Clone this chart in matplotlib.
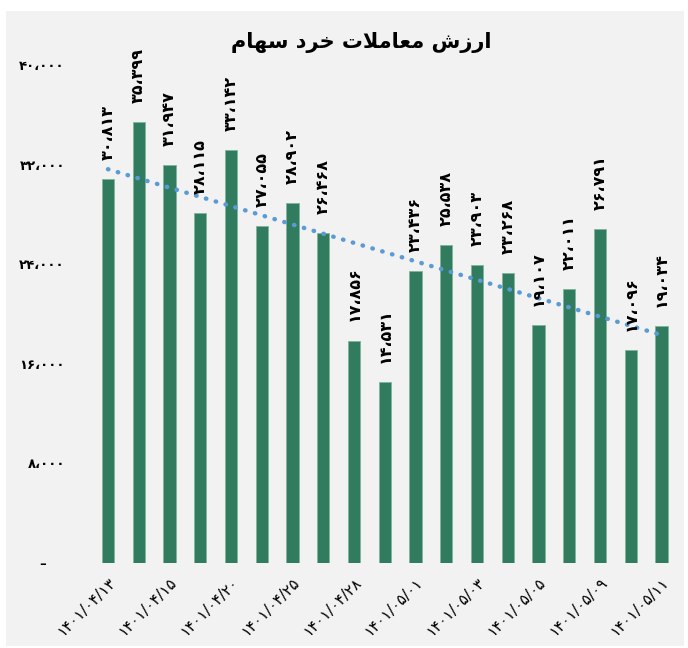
import numpy as np
import matplotlib.pyplot as plt
import matplotlib.transforms as mtransforms
from matplotlib.patches import Rectangle

# داده‌ها
values = [30813, 35399, 31947, 28115, 33142, 27055, 28902, 26468, 17856, 14531,
          23436, 25538, 23903, 23268, 19107, 22011, 26791, 17096, 19034]
date_labels = ["1401/04/13", "1401/04/15", "1401/04/20", "1401/04/25", "1401/04/28",
               "1401/05/01", "1401/05/03", "1401/05/05", "1401/05/09", "1401/05/11"]
y_ticks = [0, 8000, 16000, 24000, 32000, 40000]

# title pre-shaped (visual order) since matplotlib does no arabic shaping
title = "\uFEE1\uFE8E\uFEEC\uFEB3 \uFEA9\uFEAE\uFEA7 \uFE95\uFEFC\uFEE3\uFE8E\uFECC\uFEE3 \uFEB5\uFEAF\uFEAD\uFE8D"

fa = str.maketrans("0123456789,", "۰۱۲۳۴۵۶۷۸۹،")


def fa_num(v):
    return f"{v:,}".translate(fa)


plt.rcParams["font.family"] = ["DejaVu Sans"]

fig = plt.figure(figsize=(6.88, 6.48), dpi=100, facecolor="white")
fig.patches.append(Rectangle((6 / 688, 2 / 648), 678 / 688, 635 / 648,
                             transform=fig.transFigure, facecolor="#F2F2F2",
                             edgecolor="none", zorder=-1))

ax = fig.add_axes([0.1346, 0.1312, 0.984 - 0.1346, 0.8997 - 0.1312])
ax.set_facecolor("none")

x = np.arange(len(values))
bars = ax.bar(x, values, width=0.4, color="#317B5F", edgecolor="#7FB39B", linewidth=0.6)

# linear trendline
k, b = np.polyfit(x, values, 1)
ax.plot(x, k * x + b, color="#5B9BD5", linestyle=(0, (0.1, 2.2)), linewidth=3.2,
        dash_capstyle="round")

# value labels, rotated to read bottom-to-top
for xi, v in zip(x, values):
    ax.annotate(fa_num(v), (xi, v), xytext=(0, 14), textcoords="offset points",
                rotation=90, ha="center", va="bottom", fontsize=11.5, fontweight="bold")

ax.set_xlim(-0.5, len(values) - 0.5)
ax.set_ylim(0, 40000)
ax.set_yticks(y_ticks)
ax.set_yticklabels(["–    "] + [fa_num(t) for t in y_ticks[1:]], fontsize=9.5, fontweight="bold")
ax.set_xticks(x[::2])
ax.set_xticklabels([d.translate(fa) for d in date_labels], rotation=45, ha="right",
                   va="top", rotation_mode="anchor", fontsize=11)
shift = mtransforms.ScaledTranslation(-6 / 72, 0, fig.dpi_scale_trans)
for lbl in ax.get_xticklabels():
    lbl.set_transform(lbl.get_transform() + shift)
ax.tick_params(length=0)
ax.tick_params(axis="x", pad=8)
ax.tick_params(axis="y", pad=20)
for s in ax.spines.values():
    s.set_visible(False)

fig.text(0.525, 0.935, title, ha="center", va="center", fontsize=15, fontweight="bold")

fig.savefig("out.png", dpi=100, facecolor=fig.get_facecolor())
